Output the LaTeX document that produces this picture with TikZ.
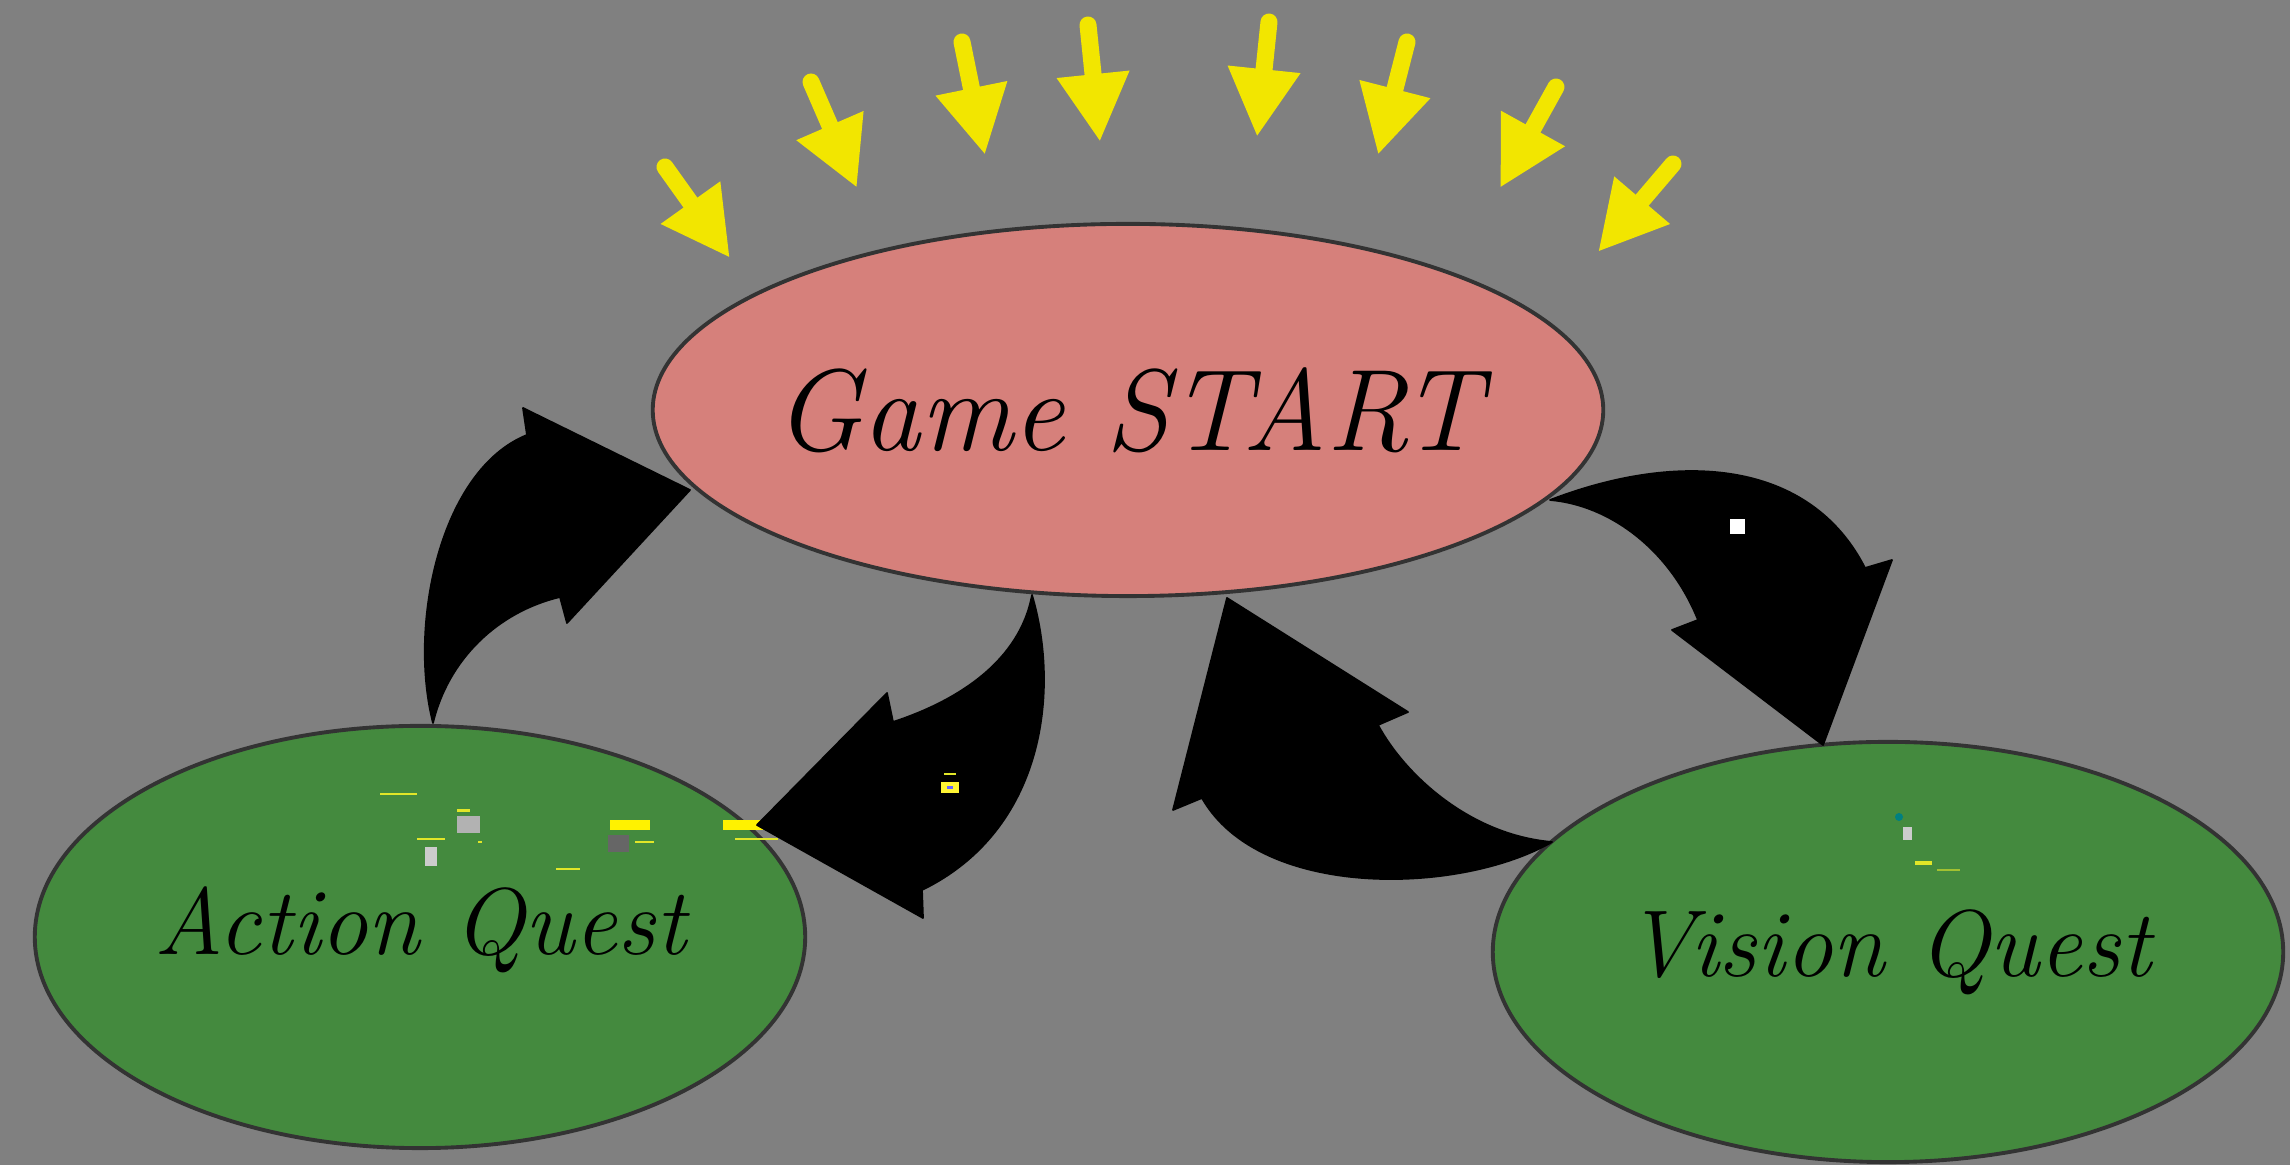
\documentclass[tikz,border=0pt]{standalone}
\usepackage{tikz}
\usetikzlibrary{shapes.geometric,arrows.meta}

\definecolor{bggray}{RGB}{128,128,128}
\definecolor{startpink}{RGB}{214,128,123}
\definecolor{questgreen}{RGB}{68,138,62}
\definecolor{rimgray}{RGB}{51,51,51}
\definecolor{rayyellow}{RGB}{242,230,0}
\definecolor{tagyellow}{RGB}{225,230,40}

\tikzset{
  blob/.style={ellipse, draw=rimgray, line width=1.1pt, inner sep=0pt},
  blobtext/.style={font=\itshape\fontsize{#1}{#1}\selectfont, inner sep=0pt},
  ray/.style={rayyellow, line width=0.17cm, line cap=round, -{Triangle[width=0.68cm,length=0.68cm]}},
  bigarrow/.style={fill=black, draw=black, line width=0.5pt, line join=round},
  thumb/.style={fill=#1, draw=none},
}

\begin{document}
\begin{tikzpicture}[x=0.01cm, y=-0.01cm]
  \fill[bggray] (0,0) rectangle (2290,1165);
  \useasboundingbox (0,0) rectangle (2290,1165);
  % the three places
  \node[blob, fill=startpink, minimum width=9.5cm, minimum height=3.72cm] (start) at (1128,410) {};
  \node[blob, fill=questgreen, minimum width=7.7cm, minimum height=4.22cm] (action) at (420,937) {};
  \node[blob, fill=questgreen, minimum width=7.9cm, minimum height=4.2cm] (vision) at (1888,952) {};
  \node[blobtext=33] (starttext) at (start.center) {Game START};
  \node[blobtext=27] (actiontext) at ([yshift=0.07cm]action.center) {Action Quest};
  \node[blobtext=27] (visiontext) at (vision.center) {Vision Quest};
  % small things inside the quests
  \fill[thumb=tagyellow] (380,793) rectangle (417,795);
  \fill[thumb=tagyellow] (457,809) rectangle (470,812);
  \fill[thumb=white!70!black] (457,816) rectangle (480,833);
  \fill[thumb=tagyellow] (417,838) rectangle (445,840);
  \fill[thumb=white!80!black] (425,847) rectangle (437,866);
  \fill[thumb=tagyellow] (478,841) rectangle (482,843);
  \fill[thumb=yellow] (610,820) rectangle (650,830);
  \fill[thumb=black!60] (608,835) rectangle (629,852);
  \fill[thumb=tagyellow] (635,841) rectangle (654,843);
  \fill[thumb=yellow] (723,820) rectangle (763,830);
  \fill[thumb=tagyellow] (735,838) rectangle (778,840);
  \fill[thumb=tagyellow] (556,868) rectangle (580,870);
  \fill[thumb=teal] (1899,817) circle (4);
  \fill[thumb=white!80!black] (1903,827) rectangle (1912,840);
  \fill[thumb=tagyellow] (1915,861) rectangle (1932,865);
  \fill[thumb=tagyellow!60!questgreen] (1937,869) rectangle (1960,871);
  % big black arrows
  \fill[bigarrow] (433,723) .. controls (408,625) and (440,470) .. (527,435) -- (523,408) -- (690,490) -- (567,623) -- (560,597) .. controls (497,612) and (448,660) .. (433,723) -- cycle;
  \fill[bigarrow] (1032,595) .. controls (1060,690) and (1045,830) .. (922,890) -- (923,918) -- (757,825) -- (887,693) -- (893,722) .. controls (960,700) and (1020,660) .. (1032,595) -- cycle;
  \fill[bigarrow] (1227,598) -- (1408,712) -- (1378,725) .. controls (1405,775) and (1470,835) .. (1552,842) .. controls (1460,895) and (1260,900) .. (1202,798) -- (1173,810) -- cycle;
  \fill[bigarrow] (1550,500) .. controls (1680,450) and (1810,460) .. (1865,568) -- (1892,560) -- (1823,745) -- (1672,630) -- (1698,620) .. controls (1670,550) and (1610,505) .. (1550,500) -- cycle;
  \fill[thumb=yellow!80!white] (941,782) rectangle (959,793);
  \fill[thumb=blue!60] (947,786) rectangle (953,789);
  \fill[thumb=tagyellow] (944,773) rectangle (956,775);
  \fill[thumb=white] (1730,519) rectangle (1745,534);
  % yellow rays
  \draw[ray] (665,167) -- (730,258);
  \draw[ray] (811,82) -- (857,188);
  \draw[ray] (962,42) -- (985,155);
  \draw[ray] (1088,25) -- (1100,142);
  \draw[ray] (1269,22) -- (1257,137);
  \draw[ray] (1407,42) -- (1378,155);
  \draw[ray] (1556,87) -- (1500,188);
  \draw[ray] (1673,164) -- (1598,252);
\end{tikzpicture}
\end{document}
